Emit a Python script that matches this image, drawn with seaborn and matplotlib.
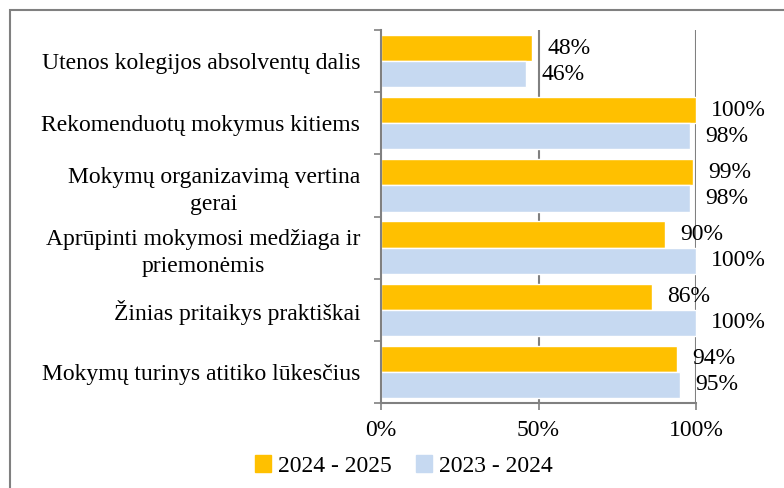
import numpy as np
import pandas as pd
import matplotlib
matplotlib.use("Agg")
import matplotlib.pyplot as plt
from matplotlib.patches import Rectangle
import seaborn as sns

categories = [
    "Utenos kolegijos absolventų dalis",
    "Rekomenduotų mokymus kitiems",
    "Mokymų organizavimą vertina\ngerai",
    "Aprūpinti mokymosi medžiaga ir\npriemonėmis",
    "Žinias pritaikys praktiškai",
    "Mokymų turinys atitiko lūkesčius",
]
series_names = ["2024 - 2025", "2023 - 2024"]
values_2024_2025 = [48, 100, 99, 90, 86, 94]
values_2023_2024 = [46, 98, 98, 100, 100, 95]
colors = ["#FFC000", "#C6D9F1"]
x_ticks = [0, 50, 100]
x_tick_labels = ["0%", "50%", "100%"]

df = pd.DataFrame({
    "category": categories * 2,
    "series": [series_names[0]] * len(categories) + [series_names[1]] * len(categories),
    "value": values_2024_2025 + values_2023_2024,
})

sns.set_theme(style="white")
plt.rcParams["font.family"] = ["Liberation Serif", "DejaVu Serif"]
plt.rcParams["text.color"] = "black"
plt.rcParams["xtick.labelcolor"] = "black"
plt.rcParams["ytick.labelcolor"] = "black"
fs = 17

fig = plt.figure(figsize=(7.84, 4.88), dpi=100)
ax = fig.add_axes([381 / 784, 1 - 403 / 488, (696 - 381) / 784, (403 - 30) / 488])

sns.barplot(data=df, y="category", x="value", hue="series", order=categories,
            hue_order=series_names, palette=colors, orient="h", width=0.84,
            saturation=1, ax=ax, legend=False)

for cont in ax.containers:
    ax.bar_label(cont, fmt="%d%%", padding=11, fontsize=fs, color="black")

ax.set_xlim(0, 100)
ax.set_ylim(len(categories) - 0.5, -0.5)
ax.set_xticks(x_ticks)
ax.set_xticklabels(x_tick_labels, fontsize=fs, color="black")
ax.set_xlabel("")
ax.set_ylabel("")
ax.set_yticks(range(len(categories)))
ax.set_yticklabels(categories, fontsize=fs, multialignment="center", color="black")
for lbl in ax.get_yticklabels():
    lbl.set_linespacing(1.4)
ax.set_yticks(np.arange(-0.5, len(categories), 1), minor=True)
ax.tick_params(axis="y", which="major", length=0, pad=15)
ax.tick_params(axis="y", which="minor", length=5, width=1.2, color="#808080", left=True)
ax.tick_params(axis="x", which="major", length=5, width=1.2, color="#808080", bottom=True, pad=7)

for xv in x_ticks[1:]:
    ax.axvline(xv, color="#808080", lw=1.5, zorder=0)

sns.despine(ax=ax, top=True, right=True)
for side in ["left", "bottom"]:
    ax.spines[side].set_color("#808080")
    ax.spines[side].set_linewidth(1.5)

handles = [Rectangle((0, 0), 1, 1, color=c) for c in colors]
fig.legend(handles, series_names, loc="center", bbox_to_anchor=(0.515, 1 - 466 / 488),
           ncol=2, frameon=False, fontsize=fs, handlelength=0.7, handleheight=0.7,
           handletextpad=0.3, columnspacing=1.0)

fig.patches.append(Rectangle((10 / 784, -0.1), 1.0, 1 - 10 / 488 + 0.1, transform=fig.transFigure,
                             fill=False, edgecolor="#808080", lw=1.5))

fig.savefig("out.png", dpi=100)
